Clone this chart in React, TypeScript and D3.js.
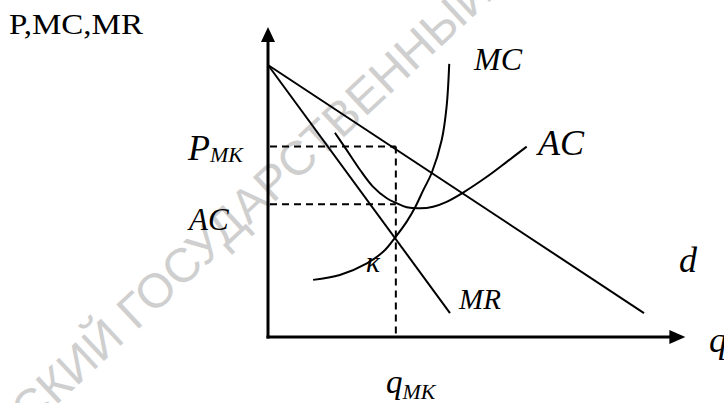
import React from "react";
import * as d3 from "d3";

// Data (in abstract units: q on x, price on y)
const demandPts: [number, number][] = [[0, 100], [100, 8.8]];
const mrPts: [number, number][] = [[0, 100], [48.4, 8.8]];
const mcPts: [number, number][] = [
  [12.0, 21.0], [19.1, 22.8], [26.3, 27.1], [30.7, 31.4], [34.0, 36.9],
  [36.9, 42.4], [39.1, 47.6], [41.3, 54.0], [43.5, 60.2], [46.2, 72.4],
  [47.5, 84.7], [48.2, 100.4],
];
const acPts: [number, number][] = [
  [17.8, 75.1], [20.9, 68.8], [24.5, 61.4], [27.9, 55.3], [31.6, 51.0],
  [34.2, 49.2], [36.9, 47.7], [40.4, 47.3], [43.9, 47.9], [47.5, 49.7],
  [51.9, 53.1], [58.2, 58.9], [63.5, 64.4], [68.8, 70.0],
];
const qMK = 34.0;
const pMK = 70.0;
const acMK = 48.8;
const xAxisMax = 111;
const yAxisMax = 114;

export default function App() {
  const W = 724, H = 403;
  const x = d3.scaleLinear().domain([0, 100]).range([268, 644]);
  const y = d3.scaleLinear().domain([0, 100]).range([337, 65]);
  const line = d3.line<[number, number]>().x(d => x(d[0])).y(d => y(d[1]));
  const curve = d3.line<[number, number]>().x(d => x(d[0])).y(d => y(d[1])).curve(d3.curveCatmullRom.alpha(0.5));

  const x0 = x(0), y0 = y(0);
  const xTip = x(xAxisMax), yTip = y(yAxisMax);
  const serif = "'Liberation Serif', 'Times New Roman', serif";

  return (
    <svg width={W} height={H} viewBox={`0 0 ${W} ${H}`} style={{ position: "absolute", left: 0, top: 0, background: "#fff" }}>
      <rect width={W} height={H} fill="#fff" />
      {/* watermark */}
      <text
        transform="translate(30,430) rotate(-43)"
        fontFamily="'Liberation Sans', Arial, sans-serif"
        fontSize={48}
        fill="#cfcfcf"
      >СКИЙ ГОСУДАРСТВЕННЫЙ</text>

      {/* axes */}
      <line x1={x0} y1={y0 + 1.5} x2={x0} y2={yTip + 14} stroke="#000" strokeWidth={3} />
      <polygon points={`${x0},${yTip} ${x0 - 7},${yTip + 15} ${x0 + 7},${yTip + 15}`} fill="#000" />
      <line x1={x0 - 1.5} y1={y0} x2={xTip - 14} y2={y0} stroke="#000" strokeWidth={3} />
      <polygon points={`${xTip},${y0} ${xTip - 16},${y0 - 7} ${xTip - 16},${y0 + 7}`} fill="#000" />

      {/* dashed guides */}
      <g stroke="#000" strokeWidth={2} strokeDasharray="7,5" fill="none">
        <line x1={x0 + 2} y1={y(pMK)} x2={x(qMK)} y2={y(pMK)} />
        <line x1={x0 + 2} y1={y(acMK)} x2={x(qMK)} y2={y(acMK)} />
        <line x1={x(qMK)} y1={y(pMK)} x2={x(qMK)} y2={y0 - 2} />
      </g>

      {/* curves */}
      <g stroke="#000" strokeWidth={2} fill="none">
        <path d={line(demandPts) || ""} />
        <path d={line(mrPts) || ""} />
        <path d={curve(mcPts) || ""} />
        <path d={curve(acPts) || ""} />
      </g>

      {/* labels */}
      <g fontFamily={serif} fill="#000">
        <text x={9} y={34} fontSize={30} textLength={134} lengthAdjust="spacingAndGlyphs">P,MC,MR</text>
        <text x={474} y={70} fontSize={32} fontStyle="italic">MC</text>
        <text x={538} y={155} fontSize={36} fontStyle="italic">AC</text>
        <text x={188} y={160} fontSize={36} fontStyle="italic">P<tspan fontSize={22} dy={2}>MK</tspan></text>
        <text x={189} y={230} fontSize={31} fontStyle="italic">AC</text>
        <text x={366} y={272} fontSize={30} fontStyle="italic">к</text>
        <text x={459} y={309} fontSize={29} fontStyle="italic">MR</text>
        <text x={679} y={272} fontSize={36} fontStyle="italic">d</text>
        <text x={709} y={352} fontSize={36} fontStyle="italic">q</text>
        <text x={386} y={393} fontSize={33} fontStyle="italic">q<tspan fontSize={22} dy={6}>MK</tspan></text>
      </g>
    </svg>
  );
}
